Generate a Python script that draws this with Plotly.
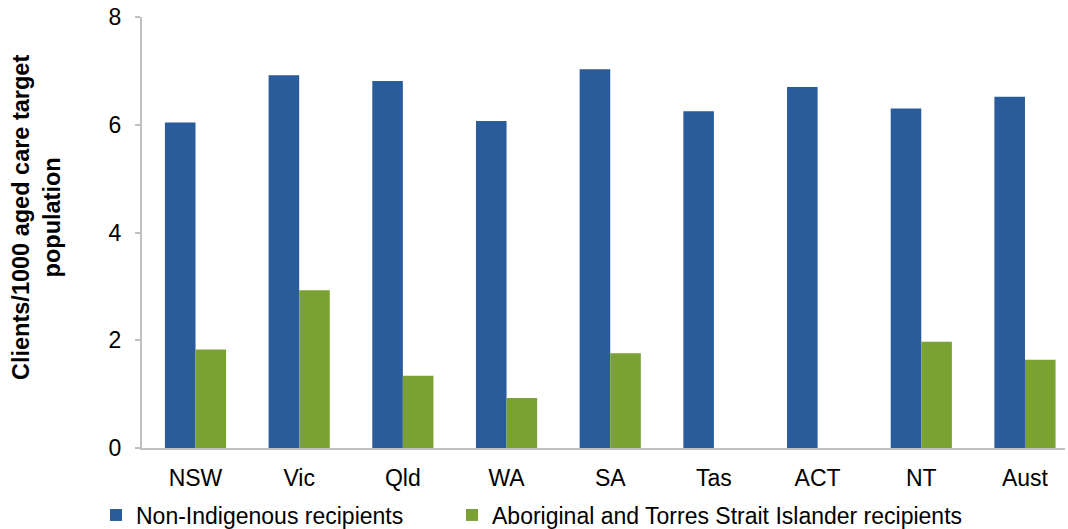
import plotly.graph_objects as go

categories = ["NSW", "Vic", "Qld", "WA", "SA", "Tas", "ACT", "NT", "Aust"]
non_indigenous = [6.04, 6.92, 6.81, 6.07, 7.03, 6.25, 6.70, 6.30, 6.52]
indigenous = [1.83, 2.93, 1.34, 0.93, 1.76, None, None, 1.97, 1.64]
y_ticks = [0, 2, 4, 6, 8]

BLUE = "#2A5B9A"
GREEN = "#7AA232"
FONT = "Liberation Sans, Arial, sans-serif"

fig = go.Figure()
fig.add_trace(go.Bar(x=categories, y=non_indigenous, name="Non-Indigenous recipients",
                     marker=dict(color=BLUE, line=dict(width=0)), legend="legend"))
fig.add_trace(go.Bar(x=categories, y=indigenous, name="Aboriginal and Torres Strait Islander recipients",
                     marker=dict(color=GREEN, line=dict(width=0)), legend="legend2"))

leg_common = dict(orientation="h", yref="container", xref="container", y=1 - 515 / 529,
                  yanchor="middle", xanchor="left", font=dict(size=23, color="#000000"),
                  itemclick=False, bgcolor="rgba(0,0,0,0)")

fig.update_layout(
    width=1068, height=529,
    margin=dict(l=142, r=3, t=17, b=81, autoexpand=False),
    paper_bgcolor="white", plot_bgcolor="white",
    barmode="group", bargap=0.41, bargroupgap=0,
    font=dict(family=FONT, size=23, color="#000000"),
    showlegend=True,
    legend=dict(x=96 / 1068, **leg_common),
    legend2=dict(x=452 / 1068, **leg_common),
)
fig.add_annotation(text="<b>Clients/1000 aged care target<br>population</b>",
                   xref="paper", yref="paper", x=-(142 - 36) / 923, y=(448 - 218) / 431,
                   xanchor="center", yanchor="middle", textangle=-90, showarrow=False,
                   font=dict(size=23.5, family=FONT, color="#000000"))
fig.update_xaxes(showline=True, linecolor="#BFBFBF", linewidth=2, ticks="",
                 range=[-0.516, 8.386],
                 showgrid=False, tickfont=dict(size=23), ticklabelstandoff=8, automargin=False)
fig.update_yaxes(range=[0, 8], tickvals=y_ticks, showline=True, linecolor="#BFBFBF", linewidth=2,
                 ticks="outside", ticklen=5, tickcolor="#BFBFBF", tickwidth=2,
                 ticklabelstandoff=9, showgrid=False, zeroline=False, automargin=False,
                 tickfont=dict(size=23))

fig.write_html("out.html", config={"displayModeBar": False},
               post_script="document.body.style.margin='0';document.body.style.overflow='hidden';")
